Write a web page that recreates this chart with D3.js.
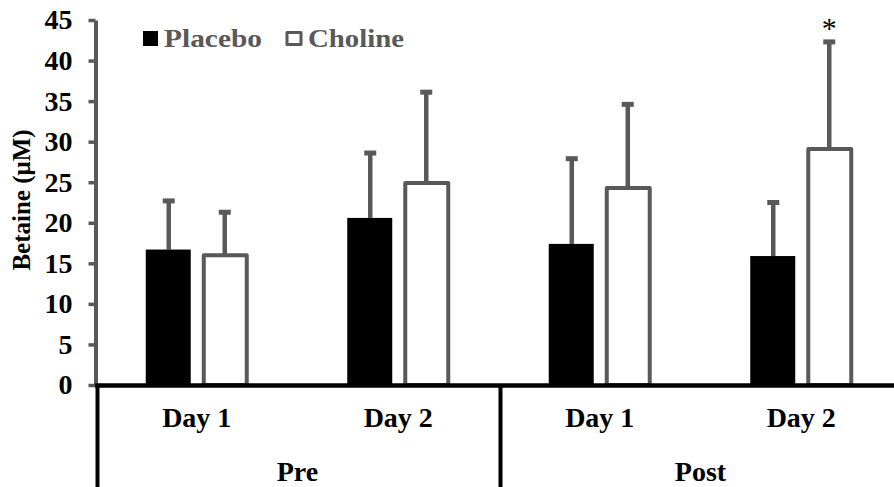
<!DOCTYPE html>
<html>
<head>
<meta charset="utf-8">
<script src="https://cdn.jsdelivr.net/npm/d3@7"></script>
<style>
  body { margin: 0; background: #fff; }
  text { font-family: "Liberation Serif", "Times New Roman", serif; }
</style>
</head>
<body>
<div id="chart"></div>
<script>
// chart values
var groups = ["Pre", "Post"];
var days = ["Day 1", "Day 2"];
var slots = ["Pre|Day 1", "Pre|Day 2", "Post|Day 1", "Post|Day 2"];
var series = ["Placebo", "Choline"];
var placeboMean = [16.7, 20.6, 17.4, 15.9];
var placeboSD = [6.0, 8.0, 10.5, 6.6];
var cholineMean = [16.0, 24.9, 24.3, 29.1];
var cholineSD = [5.3, 11.2, 10.3, 13.2];
var starred = ["Post|Day 2"];
var yTicks = [0, 5, 10, 15, 20, 25, 30, 35, 40, 45];

var width = 894, height = 487;
var gray = "#595959";

var svg = d3.select("#chart").append("svg")
  .attr("width", width)
  .attr("height", height);

// scales
var y = d3.scaleLinear().domain([0, 45]).range([385, 20]);
var x0 = d3.scaleBand().domain(slots).range([96, 902]).paddingInner(0).paddingOuter(0);
var half = 51;
var x1 = d3.scaleBand().domain(series)
  .range([x0.bandwidth() / 2 - half, x0.bandwidth() / 2 + half])
  .paddingInner(0.179).paddingOuter(0);

// build rows
var rows = [];
slots.forEach(function(s, i) {
  rows.push({slot: s, key: "Placebo", mean: placeboMean[i], sd: placeboSD[i]});
  rows.push({slot: s, key: "Choline", mean: cholineMean[i], sd: cholineSD[i]});
});
function cx(d) { return x0(d.slot) + x1(d.key) + x1.bandwidth() / 2; }

// y axis
var yAxis = d3.axisLeft(y).tickValues(yTicks).tickSize(7).tickSizeOuter(0).tickPadding(16);
var gy = svg.append("g").attr("transform", "translate(95.5,0)").call(yAxis);
gy.select(".domain").attr("stroke", gray).attr("stroke-width", 4);
gy.selectAll(".tick line").attr("stroke", gray).attr("stroke-width", 3.5);
gy.selectAll(".tick text")
  .attr("fill", "#000")
  .style("font-size", "28px")
  .style("font-weight", "bold")
  .style("font-family", "'Liberation Serif', serif");

// y title
svg.append("text")
  .attr("transform", "translate(30,200) rotate(-90)")
  .attr("text-anchor", "middle")
  .style("font-size", "25px")
  .style("font-weight", "bold")
  .text("Betaine (μM)");

// error bars (drawn before bars)
var err = svg.append("g").selectAll("g").data(rows).enter().append("g");
err.append("line")
  .attr("x1", cx).attr("x2", cx)
  .attr("y1", function(d) { return y(d.mean); })
  .attr("y2", function(d) { return y(d.mean + d.sd); })
  .attr("stroke", gray).attr("stroke-width", 4.5);
err.append("line")
  .attr("x1", function(d) { return cx(d) - 6; })
  .attr("x2", function(d) { return cx(d) + 6; })
  .attr("y1", function(d) { return y(d.mean + d.sd); })
  .attr("y2", function(d) { return y(d.mean + d.sd); })
  .attr("stroke", gray).attr("stroke-width", 5);

// bars
svg.append("g").selectAll("rect").data(rows).enter().append("rect")
  .attr("x", function(d) { return x0(d.slot) + x1(d.key) + (d.key == "Choline" ? 2 : 0); })
  .attr("width", function(d) { return x1.bandwidth() - (d.key == "Choline" ? 3 : 1); })
  .attr("y", function(d) { return y(d.mean); })
  .attr("height", function(d) { return y(0) - y(d.mean); })
  .attr("fill", function(d) { return d.key == "Placebo" ? "#000" : "#fff"; })
  .attr("stroke", function(d) { return d.key == "Placebo" ? "none" : gray; })
  .attr("stroke-width", 4)
  .attr("stroke-linejoin", "round");

// significance star
svg.append("g").selectAll("text")
  .data(rows.filter(function(d) { return d.key == "Choline" && starred.indexOf(d.slot) >= 0; }))
  .enter().append("text")
  .attr("x", cx)
  .attr("y", function(d) { return y(d.mean + d.sd) - 4; })
  .attr("text-anchor", "middle")
  .style("font-size", "30px")
  .text("*");

// x axis line and separators
svg.append("line")
  .attr("x1", 95).attr("x2", width)
  .attr("y1", y(0) + 0.5).attr("y2", y(0) + 0.5)
  .attr("stroke", "#000").attr("stroke-width", 4.5);
svg.append("g").selectAll("line").data([0, 2]).enter().append("line")
  .attr("x1", function(i) { return x0(slots[i]) + 1.5; })
  .attr("x2", function(i) { return x0(slots[i]) + 1.5; })
  .attr("y1", y(0)).attr("y2", height)
  .attr("stroke", "#000").attr("stroke-width", 4);

// day labels
svg.append("g").selectAll("text").data(slots).enter().append("text")
  .attr("x", function(s) { return x0(s) + x0.bandwidth() / 2; })
  .attr("y", 427)
  .attr("text-anchor", "middle")
  .style("font-size", "28px")
  .style("font-weight", "bold")
  .text(function(s) { return s.split("|")[1]; });

// group labels
svg.append("g").selectAll("text").data(groups).enter().append("text")
  .attr("x", function(g) { return x0(g + "|" + days[0]) + x0.bandwidth(); })
  .attr("y", 481)
  .attr("text-anchor", "middle")
  .style("font-size", "28px")
  .style("font-weight", "bold")
  .text(function(g) { return g; });

// legend
var legend = svg.append("g");
legend.append("rect").attr("x", 143).attr("y", 31).attr("width", 15).attr("height", 15).attr("fill", "#000");
legend.append("text").attr("x", 164).attr("y", 46.5)
  .attr("fill", gray).style("font-size", "26px").style("font-weight", "bold")
  .attr("textLength", 98).attr("lengthAdjust", "spacingAndGlyphs")
  .text(series[0]);
legend.append("rect").attr("x", 287).attr("y", 32.5).attr("width", 14).attr("height", 12)
  .attr("fill", "#fff").attr("stroke", gray).attr("stroke-width", 3).attr("stroke-linejoin", "round");
legend.append("text").attr("x", 308).attr("y", 46.5)
  .attr("fill", gray).style("font-size", "26px").style("font-weight", "bold")
  .attr("textLength", 96).attr("lengthAdjust", "spacingAndGlyphs")
  .text(series[1]);
</script>
</body>
</html>
